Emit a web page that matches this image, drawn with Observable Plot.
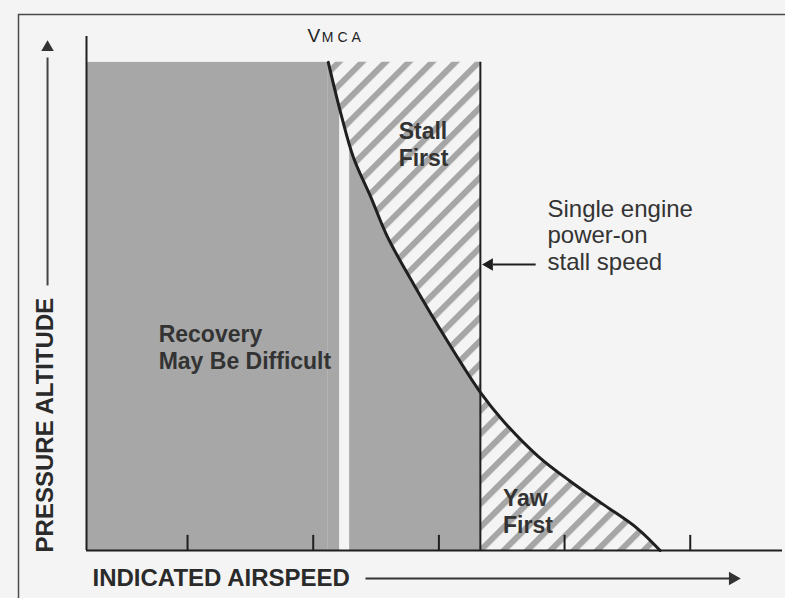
<!DOCTYPE html>
<html>
<head>
<meta charset="utf-8">
<script src="https://cdn.jsdelivr.net/npm/d3@7"></script>
<script src="https://cdn.jsdelivr.net/npm/@observablehq/plot@0.6"></script>
<style>
  html, body { margin: 0; padding: 0; background: #f4f4f4; }
  #chart svg { display: block; }
</style>
</head>
<body>
<div id="chart"></div>
<script>
// ---- data ----
const airspeed = [2.12, 2.22, 2.32, 2.46, 2.59, 2.80, 3.07, 3.33, 3.51, 3.79, 4.05, 4.31, 4.58, 4.76];
const altitude = [10.0, 8.95, 8.05, 7.23, 6.43, 5.45, 4.28, 3.24, 2.66, 1.93, 1.41, 0.94, 0.45, 0.0];
const tickValues = [1, 2, 3, 4, 5];
const stallSpeed = 3.33;          // single engine power-on stall speed
const gapStart = 2.21, gapEnd = 2.29;
const topAltitude = 10;

const regionLabels = ["Recovery\nMay Be Difficult", "Stall\nFirst", "Yaw\nFirst"];
const regionX = [0.77, 2.68, 3.51];
const regionY = [4.17, 8.33, 0.81];
const calloutLabel = "Single engine\npower-on\nstall speed";
const xTitle = "INDICATED AIRSPEED";
const yTitle = "PRESSURE ALTITUDE";
const vmcaMain = "V";
const vmcaSub = "MCA";

// ---- layout ----
const xDomain = [0.196, 5.75];
const yDomain = [0, 10.53];
const curve = airspeed.map((x, i) => ({x, y: altitude[i]}));
const font = "'Liberation Sans', Arial, Helvetica, sans-serif";
const ink = "#1f1f1f";
const grayFill = "#a7a7a7";
const bg = "#f4f4f4";

const defsMark = () => {
  const ns = "http://www.w3.org/2000/svg";
  const g = document.createElementNS(ns, "g");
  g.innerHTML = `<defs><pattern id="hatch" patternUnits="userSpaceOnUse" width="16.5" height="16.5" patternTransform="rotate(45)"><rect width="16.5" height="16.5" fill="${bg}"/><rect width="6" height="16.5" fill="#a6a6a6"/></pattern></defs>`;
  return g;
};

const chart = Plot.plot({
  width: 785,
  height: 598,
  marginLeft: 86,
  marginRight: 1,
  marginTop: 36,
  marginBottom: 48,
  style: {background: "transparent", fontFamily: font, overflow: "visible"},
  x: {domain: xDomain, axis: null},
  y: {domain: yDomain, axis: null},
  marks: [
    defsMark,
    // outer frame
    Plot.ruleY([10.98], {x1: -0.345, x2: 6.2, stroke: "#4a4a4a", strokeWidth: 1.5}),
    Plot.ruleX([-0.345], {y1: 10.98, y2: -1.2, stroke: "#4a4a4a", strokeWidth: 1.5}),
    // gray regions
    Plot.rect([0], {x1: xDomain[0], x2: airspeed[0], y1: 0, y2: topAltitude, fill: grayFill}),
    Plot.areaY(curve, {x: "x", y: "y", curve: "catmull-rom", fill: grayFill}),
    Plot.rect([0], {x1: gapStart, x2: gapEnd, y1: 0, y2: topAltitude, fill: bg}),
    // hatched regions between the Vmca curve and the stall speed
    Plot.areaX(curve, {y: "y", x1: "x", x2: () => stallSpeed, curve: "catmull-rom", fill: "url(#hatch)"}),
    // stall speed line
    Plot.ruleX([stallSpeed], {y1: 0, y2: topAltitude, stroke: ink, strokeWidth: 2}),
    // axes
    Plot.ruleX([xDomain[0]], {y1: 0, y2: yDomain[1], stroke: ink, strokeWidth: 2}),
    Plot.ruleY([0], {x1: xDomain[0], x2: 5.734, stroke: ink, strokeWidth: 2}),
    Plot.ruleX(tickValues, {y1: 0, y2: 0.31, stroke: ink, strokeWidth: 2}),
    // Vmca curve
    Plot.line(curve, {x: "x", y: "y", curve: "catmull-rom", stroke: ink, strokeWidth: 3}),
    // region labels
    Plot.text(regionLabels, {x: (d, i) => regionX[i], y: (d, i) => regionY[i], text: d => d,
      textAnchor: "start", lineAnchor: "middle", lineHeight: 1.18, fontSize: 23, fontWeight: "bold", fill: "#333"}),
    Plot.text([calloutLabel], {x: 3.864, y: 6.47, text: d => d, textAnchor: "start", lineAnchor: "middle",
      lineHeight: 1.1, fontSize: 24, fill: "#333"}),
    // callout arrow
    Plot.link([0], {x1: 3.77, x2: 3.43, y1: 5.86, y2: 5.86, stroke: ink, strokeWidth: 2}),
    Plot.dot([0], {x: stallSpeed + 0.015, y: 5.86, symbol: "triangle2", r: 6, rotate: -90, dx: 7, fill: ink, stroke: "none"}),
    // V MCA
    Plot.text([vmcaMain], {x: 1.955, y: 10.41, text: d => d, textAnchor: "start", lineAnchor: "bottom", fontSize: 19, fill: "#222"}),
    Plot.text([vmcaSub], {x: 2.068, y: 10.41, text: d => d, textAnchor: "start", lineAnchor: "bottom", fontSize: 14, fill: "#222"}),
    // x title + arrow
    Plot.text([xTitle], {x: 0.244, y: -0.574, text: d => d, textAnchor: "start", lineAnchor: "middle", fontSize: 24, fontWeight: "bold", fill: "#2a2a2a"}),
    Plot.link([0], {x1: 2.416, x2: 5.33, y1: -0.574, y2: -0.574, stroke: "#333", strokeWidth: 2}),
    Plot.dot([0], {x: 5.395, y: -0.574, symbol: "triangle2", r: 6.5, rotate: 90, dx: -7, fill: "#333", stroke: "none"}),
    // y title + arrow
    Plot.text([yTitle], {x: -0.130, y: 2.57, text: d => d, rotate: -90, textAnchor: "middle", lineAnchor: "middle", fontSize: 24, fontWeight: "bold", fill: "#2a2a2a"}),
    Plot.link([0], {x1: -0.114, x2: -0.114, y1: 5.43, y2: 10.1, stroke: "#444", strokeWidth: 2}),
    Plot.dot([0], {x: -0.114, y: 10.45, symbol: "triangle2", r: 6, dy: 7, fill: "#333", stroke: "none"})
  ]
});
chart.querySelectorAll("text").forEach(t => {
  if (t.textContent === vmcaSub) t.setAttribute("letter-spacing", "4");
});
document.getElementById("chart").append(chart);
</script>
</body>
</html>
